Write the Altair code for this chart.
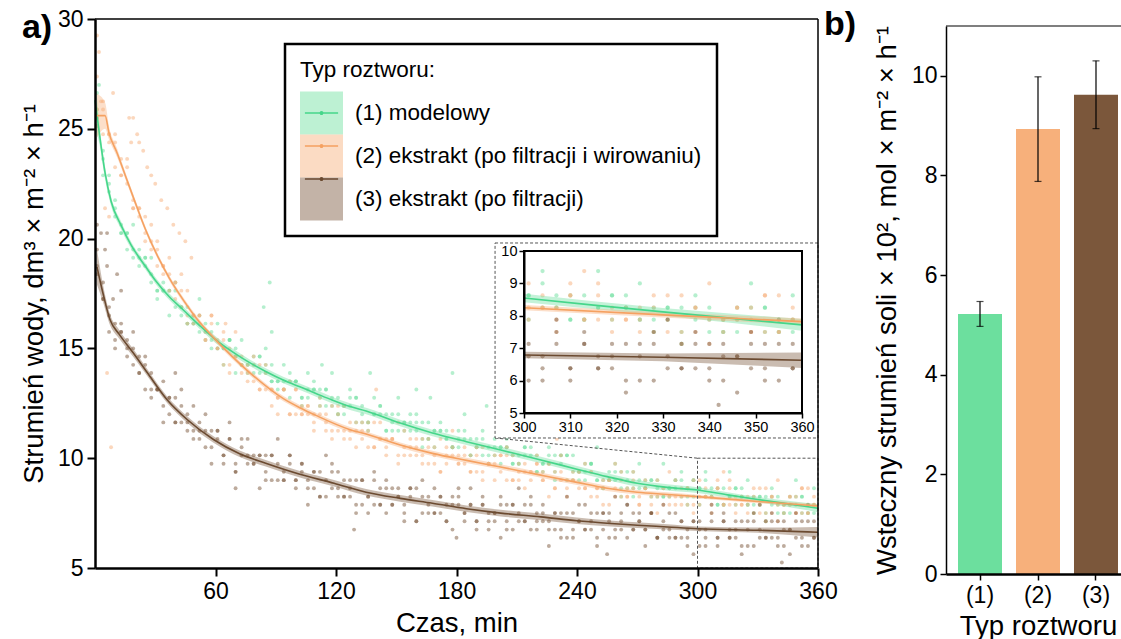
import altair as alt
import pandas as pd

FONT = "Liberation Sans"

# ---------------- data ----------------
SERIES = ["(1) modelowy", "(2) ekstrakt (po filtracji i wirowaniu)", "(3) ekstrakt (po filtracji)"]
FILL_COLORS = ["#6cdf9e", "#f7b07b", "#7b573b"]
LINE_COLORS = ["#45d68a", "#f5a161", "#6b4a30"]

# sampling times of the measured water flux, min
SCATTER_T = list(range(1, 360, 3))

G_A = [25.5, 24.0, 22.13, 21.0, 20.63, 20.25, 19.13, 19.13, 19.13, 18.38,
       17.63, 17.63, 17.63, 16.88, 16.88, 16.88, 16.13, 15.75, 15.75, 15.75,
       15.0, 15.0, 15.38, 14.63, 14.25, 14.25, 14.63, 13.88, 13.88, 14.25,
       13.5, 13.13, 13.5, 13.5, 12.75, 13.13, 13.5, 12.75, 12.38, 12.75,
       12.75, 12.0, 12.38, 12.75, 12.0, 11.63, 12.0, 12.38, 11.25, 11.63,
       12.0, 11.63, 11.25, 11.25, 11.63, 10.88, 11.25, 11.25, 10.88, 10.5,
       10.88, 11.25, 10.13, 10.5, 10.88, 10.5, 10.13, 10.5, 10.5, 9.75,
       10.13, 10.5, 10.13, 9.38, 9.75, 10.13, 9.38, 9.75, 10.13, 9.38,
       9.0, 9.38, 9.75, 9.0, 9.0, 9.38, 9.0, 8.63, 9.0, 9.38,
       8.63, 8.63, 9.0, 8.63, 8.25, 8.63, 9.0, 8.25, 8.63, 9.0,
       8.63, 8.25, 8.25, 8.63, 7.88, 8.25, 8.63, 8.25, 7.88, 8.25,
       8.25, 7.5, 7.88, 8.25, 7.88, 7.5, 7.88, 8.25, 7.5, 7.88]
G_B = [25.13, 23.63, 22.5, 21.75, 20.25, 19.5, 19.5, 19.5, 19.13, 18.0,
       17.63, 17.63, 17.63, 17.63, 16.5, 16.13, 16.13, 16.5, 16.13, 15.0,
       15.0, 15.0, 15.38, 15.0, 14.25, 13.88, 14.25, 14.63, 14.25, 13.5,
       13.13, 13.5, 13.88, 13.5, 12.75, 12.75, 13.13, 13.13, 13.13, 12.38,
       12.0, 12.38, 12.75, 12.75, 11.63, 11.63, 12.0, 12.38, 12.0, 11.25,
       11.25, 11.63, 12.0, 11.63, 10.88, 10.88, 11.25, 11.25, 11.25, 10.5,
       10.5, 10.88, 10.88, 10.88, 10.13, 10.13, 10.5, 10.5, 10.5, 9.75,
       9.75, 10.13, 10.5, 10.13, 9.38, 9.75, 10.13, 10.13, 10.13, 9.0,
       9.38, 9.75, 9.75, 9.0, 8.63, 9.0, 9.38, 9.38, 8.63, 8.63,
       9.0, 9.0, 9.0, 8.25, 8.25, 8.63, 9.0, 9.0, 8.25, 8.25,
       8.63, 9.0, 8.63, 7.88, 7.88, 8.25, 8.63, 8.63, 7.88, 7.88,
       7.88, 8.25, 8.25, 7.5, 7.5, 7.88, 8.25, 8.25, 7.5, 7.5]
G_C = [25.88, 22.88, 22.88, 21.38, 20.25, 20.25, 20.63, 18.75, 18.75, 19.13,
       17.25, 18.0, 16.5, 18.0, 16.88, 16.13, 16.5, 17.25, 15.38, 15.38,
       16.13, 14.25, 15.38, 13.88, 15.38, 14.25, 13.88, 14.63, 15.0, 13.5,
       13.5, 14.25, 12.75, 13.5, 12.38, 13.88, 13.13, 12.38, 13.13, 13.88,
       12.0, 12.38, 13.13, 11.63, 12.38, 11.25, 12.75, 12.0, 11.25, 12.0,
       12.75, 11.25, 11.63, 12.0, 10.5, 11.63, 10.5, 11.63, 10.88, 10.5,
       11.25, 12.0, 10.13, 10.5, 11.25, 9.75, 10.88, 9.75, 10.88, 10.13,
       9.75, 10.5, 11.25, 9.38, 9.75, 10.5, 9.0, 10.13, 9.0, 10.13,
       9.38, 9.0, 9.75, 10.5, 8.63, 9.0, 9.75, 8.25, 9.38, 8.25,
       9.75, 8.63, 8.25, 9.0, 9.75, 8.25, 8.63, 9.38, 7.88, 9.0,
       7.88, 9.38, 8.25, 7.88, 8.63, 9.38, 7.88, 8.25, 9.0, 7.5,
       8.25, 7.13, 8.63, 7.88, 7.5, 8.25, 9.0, 7.5, 7.88, 8.63]

O_A = [25.5, 25.88, 24.38, 24.75, 22.88, 22.5, 21.75, 21.38, 20.25, 20.63,
       18.75, 18.75, 18.38, 18.0, 16.88, 17.63, 16.13, 16.13, 15.75, 16.13,
       15.0, 15.75, 14.25, 14.63, 14.25, 14.25, 13.5, 14.25, 13.13, 13.13,
       12.75, 13.13, 12.0, 13.13, 12.0, 12.0, 12.0, 12.38, 11.25, 12.38,
       11.25, 11.25, 11.25, 11.63, 10.88, 11.63, 10.5, 10.88, 10.88, 10.88,
       10.13, 11.25, 10.13, 10.5, 10.13, 10.5, 9.75, 10.88, 9.75, 10.13,
       10.13, 10.13, 9.38, 10.5, 9.38, 9.75, 9.75, 10.13, 9.0, 10.13,
       9.0, 9.38, 9.38, 9.75, 9.0, 9.75, 8.63, 9.0, 9.0, 9.38,
       8.63, 9.75, 8.25, 8.63, 8.63, 9.0, 8.25, 9.38, 8.25, 8.63,
       8.25, 8.63, 7.88, 9.0, 7.88, 8.25, 8.25, 8.63, 7.88, 9.0,
       7.88, 8.25, 8.25, 8.63, 7.88, 9.0, 7.88, 7.88, 7.88, 8.25,
       7.5, 8.63, 7.5, 7.88, 7.88, 8.25, 7.5, 8.63, 7.5, 7.88]
O_B = [25.88, 24.75, 24.75, 24.38, 22.88, 23.25, 21.38, 21.38, 19.88, 19.88,
       19.5, 18.38, 19.13, 17.25, 17.63, 16.13, 16.5, 16.5, 15.38, 16.5,
       15.0, 15.38, 13.88, 14.63, 14.63, 13.5, 14.63, 13.13, 13.88, 12.38,
       12.75, 13.13, 12.0, 13.13, 12.0, 12.38, 11.25, 12.0, 12.0, 11.25,
       12.38, 10.88, 11.63, 10.5, 11.25, 11.25, 10.5, 11.63, 10.5, 10.88,
       9.75, 10.5, 10.88, 10.13, 10.88, 9.75, 10.5, 9.38, 10.13, 10.5,
       9.75, 10.5, 9.38, 10.13, 9.0, 9.75, 10.13, 9.38, 10.13, 9.0,
       9.75, 8.63, 9.38, 9.75, 9.0, 9.75, 8.63, 9.38, 8.25, 9.0,
       9.38, 8.63, 9.38, 8.25, 9.0, 7.88, 8.63, 9.0, 8.25, 9.38,
       7.88, 8.63, 7.5, 8.25, 8.63, 7.88, 9.0, 7.88, 8.63, 7.5,
       8.25, 8.63, 7.88, 9.0, 7.88, 8.63, 7.5, 7.88, 8.25, 7.5,
       8.63, 7.5, 8.25, 7.13, 7.88, 8.25, 7.5, 8.63, 7.5, 8.25]
O_C = [25.13, 26.25, 24.75, 23.25, 23.63, 23.63, 21.38, 21.0, 21.0, 19.5,
       19.88, 18.75, 17.63, 18.0, 18.38, 16.5, 16.5, 16.5, 15.38, 16.5,
       15.38, 14.25, 15.0, 15.75, 13.88, 13.88, 14.25, 13.13, 14.25, 13.13,
       12.0, 13.13, 13.5, 12.0, 12.38, 12.38, 11.63, 12.75, 11.63, 10.88,
       12.0, 12.38, 10.88, 11.25, 11.63, 10.5, 11.63, 10.88, 10.13, 10.88,
       11.63, 10.13, 10.5, 10.88, 9.75, 10.88, 10.13, 9.38, 10.5, 11.25,
       9.75, 9.75, 10.13, 9.38, 10.5, 9.75, 9.0, 10.13, 10.5, 9.0,
       9.38, 9.75, 9.0, 10.13, 9.38, 8.25, 9.38, 10.13, 8.63, 9.0,
       9.38, 8.63, 9.38, 8.63, 7.88, 9.0, 9.75, 8.25, 8.63, 9.0,
       7.88, 9.0, 8.25, 7.5, 8.63, 9.38, 7.88, 8.25, 8.63, 7.88,
       9.0, 8.25, 7.5, 8.63, 9.38, 7.88, 8.25, 8.25, 7.5, 8.63,
       7.88, 7.13, 8.25, 9.0, 7.5, 7.88, 8.25, 7.5, 8.63, 7.88]

B_A = [18.75, 17.25, 16.88, 15.38, 15.75, 15.38, 14.25, 14.63, 13.13, 13.88,
       13.13, 12.38, 12.75, 11.63, 12.38, 11.63, 11.25, 11.63, 10.5, 11.25,
       10.88, 10.13, 10.88, 9.38, 10.5, 10.13, 9.75, 10.13, 9.0, 10.13,
       9.75, 9.0, 9.75, 8.63, 9.75, 9.0, 8.63, 9.38, 8.25, 9.38,
       8.63, 8.25, 9.0, 7.88, 9.0, 8.25, 7.88, 8.63, 7.5, 8.63,
       8.25, 7.88, 8.63, 7.13, 8.25, 7.88, 7.5, 8.25, 7.13, 8.25,
       7.88, 7.5, 7.88, 6.75, 7.88, 7.5, 7.13, 7.88, 6.75, 7.88,
       7.5, 7.13, 7.88, 6.75, 7.5, 7.13, 6.75, 7.5, 6.38, 7.5,
       7.13, 6.75, 7.5, 6.38, 7.5, 7.13, 6.75, 7.5, 6.38, 7.5,
       7.13, 6.75, 7.5, 6.38, 7.13, 6.75, 6.38, 7.13, 6.0, 7.13,
       6.75, 6.38, 7.13, 6.0, 7.13, 6.75, 6.38, 7.13, 6.0, 7.13,
       6.75, 6.38, 7.13, 6.0, 7.13, 6.75, 6.38, 7.13, 6.0, 7.13]
B_B = [19.5, 17.25, 16.5, 15.0, 15.75, 14.63, 15.75, 13.88, 14.63, 13.13,
       13.13, 11.63, 12.75, 11.63, 13.13, 11.25, 12.38, 10.88, 11.25, 9.75,
       11.25, 9.75, 11.63, 9.75, 10.88, 9.75, 10.13, 8.63, 10.13, 9.0,
       10.88, 9.0, 10.13, 9.0, 9.38, 7.88, 9.38, 8.25, 10.13, 8.63,
       9.38, 8.25, 8.63, 7.5, 9.0, 7.5, 9.38, 7.88, 9.0, 7.88,
       8.25, 7.13, 8.63, 7.13, 9.0, 7.5, 8.63, 7.5, 7.88, 6.75,
       8.25, 7.13, 8.63, 7.13, 8.25, 7.13, 7.5, 6.38, 7.88, 6.75,
       8.63, 7.13, 8.25, 7.13, 7.13, 6.0, 7.5, 6.38, 8.25, 6.75,
       7.88, 6.75, 7.13, 6.0, 7.5, 6.38, 8.25, 6.75, 7.88, 6.75,
       7.13, 6.0, 7.5, 6.38, 7.88, 6.38, 7.5, 6.38, 6.75, 5.63,
       7.13, 6.0, 7.88, 6.38, 7.5, 6.38, 6.75, 5.63, 7.13, 6.0,
       7.88, 6.38, 7.5, 6.38, 6.75, 5.63, 7.13, 6.0, 7.88, 6.38]
B_C = [18.38, 18.0, 15.75, 16.13, 16.13, 15.0, 15.0, 13.88, 14.25, 12.75,
       13.13, 13.5, 12.0, 12.75, 11.63, 12.0, 10.88, 11.25, 12.0, 10.5,
       11.25, 10.13, 10.88, 9.38, 10.13, 10.88, 9.75, 10.13, 9.38, 10.13,
       9.0, 9.38, 10.13, 9.0, 9.75, 8.63, 9.38, 8.25, 9.0, 9.75,
       8.25, 9.0, 8.25, 9.0, 7.88, 8.25, 9.0, 7.88, 8.63, 7.88,
       8.63, 7.5, 8.25, 8.63, 7.5, 8.25, 7.5, 8.25, 7.13, 7.88,
       8.63, 7.5, 7.88, 7.13, 7.88, 6.75, 7.5, 8.25, 7.13, 7.88,
       7.13, 7.88, 6.75, 7.5, 7.88, 6.75, 7.5, 6.75, 7.5, 6.38,
       7.13, 7.88, 6.75, 7.5, 6.75, 7.5, 6.38, 7.13, 7.88, 6.75,
       7.5, 6.75, 7.5, 6.38, 6.75, 7.5, 6.38, 7.13, 6.38, 7.13,
       6.0, 6.75, 7.5, 6.38, 7.13, 6.38, 7.13, 6.0, 6.75, 7.5,
       6.38, 7.13, 6.38, 7.13, 6.0, 6.75, 7.5, 6.38, 7.13, 6.38]

# isolated points (time, value, series index)
EXTRA_T = [1, 2, 1, 3, 9, 17, 19, 21, 18, 22, 24, 26, 28, 30, 33, 36, 39, 42, 45, 48, 6, 8, 5, 7, 65, 140, 230,
           87, 84, 88, 113, 137, 178, 167, 195, 160, 2, 1,
           1, 3, 6, 5, 6, 11, 13, 9, 129, 342, 180, 255, 40, 70]
EXTRA_V = [29.25, 28.5, 27.38, 26.25, 26.63, 25.5, 25.5, 24.75, 24.38, 24.38, 24.0, 23.25, 22.88, 22.5, 21.75, 21.38,
           20.63, 20.25, 19.88, 19.13, 13.88, 10.5, 21.38, 21.0, 16.13, 13.13, 10.88,
           18.0, 16.88, 15.75, 14.25, 13.88, 13.88, 12.75, 12.38, 13.13, 27.0, 26.63,
           20.63, 20.25, 20.25, 19.5, 18.75, 18.38, 17.63, 17.25, 6.75, 5.25, 6.38, 5.63, 13.88, 8.63]
EXTRA_S = [1] * 27 + [0] * 11 + [2] * 14

# fitted curves with confidence half-widths
G_FIT_T = [0, 2, 5, 8, 13, 18, 25, 30, 37, 44, 52, 60, 70, 77, 85, 94, 102, 110, 118, 127,
           135, 152, 168, 185, 202, 222, 240, 255, 270, 285, 300, 315, 330, 345, 360]
G_FIT = [26.3, 24.9, 23.0, 21.7, 20.6, 19.7, 18.75, 18.1, 17.35, 16.75, 16.05, 15.4, 14.75, 14.35, 13.95,
         13.55, 13.25, 12.95, 12.65, 12.35, 12.15, 11.6, 11.15, 10.75, 10.37, 9.92, 9.5, 9.16, 8.86, 8.67,
         8.55, 8.33, 8.12, 7.92, 7.72]
G_HW = [1.3, 0.5, 0.3, 0.22, 0.18, 0.16, 0.15, 0.15, 0.15, 0.15, 0.15, 0.15, 0.15, 0.15, 0.15, 0.15, 0.15,
        0.15, 0.15, 0.15, 0.15, 0.15, 0.15, 0.15, 0.15, 0.15, 0.15, 0.15, 0.15, 0.14, 0.13, 0.12, 0.12,
        0.14, 0.18]
O_FIT_T = [1, 5, 7, 11, 15, 20, 25, 32, 37, 44, 52, 60, 77, 94, 102, 110, 127, 135, 152, 168,
           185, 202, 222, 240, 255, 270, 285, 300, 330, 360]
O_FIT = [25.6, 25.6, 24.8, 23.9, 22.9, 21.65, 20.45, 19.05, 18.2, 17.2, 16.2, 15.4, 13.9, 12.7, 12.3,
         11.95, 11.3, 11.1, 10.6, 10.22, 9.9, 9.6, 9.23, 8.9, 8.63, 8.45, 8.35, 8.25, 8.03, 7.82]
O_HW = [1.0, 0.6, 0.3, 0.2, 0.16, 0.14, 0.13, 0.12, 0.12, 0.12, 0.12, 0.12, 0.12, 0.12, 0.12, 0.12,
        0.12, 0.12, 0.12, 0.12, 0.12, 0.12, 0.12, 0.12, 0.12, 0.1, 0.1, 0.08, 0.08, 0.1]
B_FIT_T = [1, 4, 7.5, 12, 19, 26, 36, 46, 59, 72, 85, 102, 119, 135, 152, 168, 185, 202, 222, 240,
           255, 270, 285, 300, 330, 360]
B_FIT = [18.7, 17.5, 16.3, 15.65, 14.8, 13.9, 12.65, 11.75, 10.85, 10.2, 9.77, 9.27, 8.86, 8.45, 8.17,
         7.95, 7.7, 7.5, 7.33, 7.15, 7.04, 6.95, 6.87, 6.79, 6.72, 6.63]
B_HW = [0.8, 0.4, 0.25, 0.2, 0.18, 0.16, 0.15, 0.15, 0.15, 0.15, 0.15, 0.15, 0.15, 0.15, 0.15, 0.15,
        0.15, 0.15, 0.15, 0.15, 0.14, 0.13, 0.12, 0.1, 0.12, 0.24]

# panel b: reverse salt flux x 10^2
CATS = ["(1)", "(2)", "(3)"]
RSF = [5.22, 8.93, 9.62]
RSF_ERR = [0.25, 1.05, 0.68]

# ---------------- tables ----------------
rows = []
for name, reps in zip(SERIES, [(G_A, G_B, G_C), (O_A, O_B, O_C), (B_A, B_B, B_C)]):
    for rep in reps:
        assert len(rep) == len(SCATTER_T), (name, len(rep))
        for t, v in zip(SCATTER_T, rep):
            rows.append({"t": t, "v": v, "series": name})
assert len(EXTRA_T) == len(EXTRA_V) == len(EXTRA_S)
for t, v, s in zip(EXTRA_T, EXTRA_V, EXTRA_S):
    rows.append({"t": t, "v": v, "series": SERIES[s]})
scatter = pd.DataFrame(rows)

frows = []
for name, T, F, H in zip(SERIES, [G_FIT_T, O_FIT_T, B_FIT_T], [G_FIT, O_FIT, B_FIT], [G_HW, O_HW, B_HW]):
    assert len(T) == len(F) == len(H), name
    for t, f, h in zip(T, F, H):
        frows.append({"t": t, "fit": f, "lo": f - h, "hi": f + h, "series": name, "solution": name})
fits = pd.DataFrame(frows)

bars = pd.DataFrame({"cat": CATS, "val": RSF, "err": RSF_ERR})
bars["lo"] = bars["val"] - bars["err"]
bars["hi"] = bars["val"] + bars["err"]

one = pd.DataFrame({"k": [0]})

# ---------------- styling ----------------
AX = dict(domainColor="black", tickColor="black", labelColor="black", titleColor="black",
          labelFont=FONT, titleFont=FONT, titleFontWeight="normal", grid=False, zindex=1,
          labelFlush=False)
LAB = 23      # tick label size
TIT = 27.5    # axis title size
LEG = 22.5    # legend text size

fill_scale = alt.Scale(domain=SERIES, range=FILL_COLORS)
stroke_scale = alt.Scale(range=LINE_COLORS)

fill_legend = alt.Legend(orient="none", legendX=190, legendY=25, title="Typ roztworu:",
                         titleFontSize=LEG, titleFontWeight="normal", titleColor="black", titleFont=FONT,
                         titlePadding=10, labelFontSize=LEG, labelColor="black", labelFont=FONT,
                         labelOffset=12, labelLimit=600, symbolType="square", symbolSize=1849,
                         symbolStrokeWidth=0, symbolOpacity=0.45, rowPadding=0, padding=15,
                         strokeColor="black")
stroke_legend = alt.Legend(orient="none", legendX=190, legendY=25, title=" ",
                           titleFontSize=LEG, titleFontWeight="normal", titleFont=FONT,
                           titlePadding=10, labelFontSize=LEG, labelFont=FONT, labelExpr="''",
                           labelOffset=12, labelLimit=600,
                           symbolType="M-0.8,0H0.8M0.06,0A0.06,0.06,0,1,1,-0.06,0A0.06,0.06,0,1,1,0.06,0",
                           symbolSize=1722, symbolStrokeWidth=1.5, symbolOpacity=1, rowPadding=0,
                           padding=15)

FILL = alt.Fill("series:N", scale=fill_scale, legend=fill_legend)
STROKE = alt.Stroke("solution:N", sort=SERIES, scale=stroke_scale, legend=stroke_legend)

# ---------------- panel a ----------------
xa_scale = alt.Scale(domain=[0, 360], range=[0, 723], nice=False)
ya_scale = alt.Scale(domain=[5, 30], range=[549, 0], nice=False, zero=False)
xa_axis = alt.Axis(orient="bottom", values=[60, 120, 180, 240, 300, 360], title="Czas, min",
                   domainWidth=2.5, tickWidth=2, tickSize=8, labelFontSize=LAB, labelPadding=4,
                   titleFontSize=TIT, titlePadding=6, **AX)
ya_axis = alt.Axis(orient="left", values=[5, 10, 15, 20, 25, 30],
                   title="Strumień wody, dm³ × m⁻² × h⁻¹",
                   domainWidth=2.5, tickWidth=2, tickSize=8, labelFontSize=LAB, labelPadding=4,
                   titleFontSize=TIT, titlePadding=9, **AX)
XA = alt.X("t:Q", scale=xa_scale, axis=xa_axis)

a_points = alt.Chart(scatter).mark_circle(size=15, opacity=0.5).encode(
    x=XA, y=alt.Y("v:Q", scale=ya_scale, axis=ya_axis), fill=FILL)
a_band = alt.Chart(fits).mark_area(opacity=0.4, interpolate="monotone").encode(
    x=XA, y=alt.Y("lo:Q", scale=ya_scale, axis=ya_axis), y2="hi:Q", fill=FILL)
a_line = alt.Chart(fits).mark_line(strokeWidth=1.6, interpolate="monotone").encode(
    x=XA, y=alt.Y("fit:Q", scale=ya_scale, axis=ya_axis), stroke=STROKE)
a_zoom = alt.Chart(one).mark_rect(fillOpacity=0, stroke="#555555", strokeWidth=1, strokeDash=[3, 2]).encode(
    x=alt.datum(300), x2=alt.datum(360), y=alt.datum(5), y2=alt.datum(10))
a_link = alt.Chart(one).mark_rule(color="#555555", strokeWidth=1, strokeDash=[3, 2]).encode(
    x=alt.datum(199.2), y=alt.datum(10.92), x2=alt.datum(300), y2=alt.datum(10))
a_box = alt.Chart(one).mark_rect(fill="white", stroke="#555555", strokeWidth=1, strokeDash=[3, 2]).encode(
    x=alt.datum(199.2), x2=alt.datum(360), y=alt.datum(10.92), y2=alt.datum(19.8))
a_top = alt.Chart(one).mark_rule(color="black", strokeWidth=1.5).encode(
    x=alt.datum(0), x2=alt.datum(360), y=alt.datum(30))
a_right = alt.Chart(one).mark_rule(color="black", strokeWidth=1.5).encode(
    x=alt.datum(360), y=alt.datum(5), y2=alt.datum(30))

panel_a = alt.layer(a_points, a_band, a_line, a_zoom, a_link, a_box, a_top, a_right)

# ---------------- inset ----------------
xi_scale = alt.Scale(domain=[300, 360], range=[429, 707], nice=False)
yi_scale = alt.Scale(domain=[5, 10], range=[394, 232], nice=False, zero=False)
xi_axis = alt.Axis(orient="bottom", offset=-155, values=[300, 310, 320, 330, 340, 350, 360], title="",
                   format="d", domainWidth=2, tickWidth=1.5, tickSize=5, labelFontSize=14.5,
                   labelPadding=2, **AX)
yi_axis = alt.Axis(orient="left", offset=-429, values=[5, 6, 7, 8, 9, 10], title="", format="d",
                   domainWidth=2, tickWidth=1.5, tickSize=5, labelFontSize=14.5, labelPadding=2, **AX)
XI = alt.X("t:Q", scale=xi_scale, axis=xi_axis)

i_points = alt.Chart(scatter).mark_circle(size=18, opacity=0.5).encode(
    x=XI, y=alt.Y("v:Q", scale=yi_scale, axis=yi_axis), fill=FILL
).transform_filter("datum.t >= 300 && datum.v >= 5 && datum.v <= 10")
i_band = alt.Chart(fits).mark_area(opacity=0.4).encode(
    x=XI, y=alt.Y("lo:Q", scale=yi_scale, axis=yi_axis), y2="hi:Q", fill=FILL
).transform_filter("datum.t >= 300")
i_line = alt.Chart(fits).mark_line(strokeWidth=1.6).encode(
    x=XI, y=alt.Y("fit:Q", scale=yi_scale, axis=yi_axis), stroke=STROKE
).transform_filter("datum.t >= 300")
i_frame = alt.Chart(one).mark_rect(fillOpacity=0, stroke="black", strokeWidth=2).encode(
    x=alt.datum(300), x2=alt.datum(360), y=alt.datum(5), y2=alt.datum(10))

inset = alt.layer(i_points, i_band, i_line, i_frame)

# ---------------- panel b ----------------
xb_scale = alt.Scale(domain=CATS, range=[851, 1035], paddingInner=0.2414, paddingOuter=0.207)
yb_scale = alt.Scale(domain=[0, 11], range=[555, 7], nice=False)
xb_axis = alt.Axis(orient="bottom", offset=6, title="Typ roztworu", labelAngle=0,
                   domainWidth=2.5, tickWidth=1.5, tickSize=6, labelFontSize=LAB, labelPadding=4,
                   titleFontSize=TIT, titlePadding=5, **AX)
yb_axis = alt.Axis(orient="left", offset=-851, values=[0, 2, 4, 6, 8, 10],
                   title="Wsteczny strumień soli × 10², mol × m⁻² × h⁻¹",
                   domainWidth=1.5, tickWidth=1.5, tickSize=6, labelFontSize=LAB, labelPadding=3,
                   titleFontSize=TIT, titlePadding=10, **AX)
XB = alt.X("cat:N", scale=xb_scale, axis=xb_axis)

b_bars = alt.Chart(bars).mark_bar().encode(
    x=XB, y=alt.Y("val:Q", scale=yb_scale, axis=yb_axis),
    color=alt.Color("cat:N", scale=alt.Scale(domain=CATS, range=FILL_COLORS), legend=None))
b_err = alt.Chart(bars).mark_rule(color="black", strokeWidth=1.2).encode(
    x=XB, y=alt.Y("lo:Q", scale=yb_scale, axis=yb_axis), y2="hi:Q")
b_cap_lo = alt.Chart(bars).mark_tick(color="black", thickness=1.2, size=7).encode(
    x=XB, y=alt.Y("lo:Q", scale=yb_scale, axis=yb_axis))
b_cap_hi = alt.Chart(bars).mark_tick(color="black", thickness=1.2, size=7).encode(
    x=XB, y=alt.Y("hi:Q", scale=yb_scale, axis=yb_axis))
b_top = alt.Chart(one).mark_rule(color="black", strokeWidth=1.2).encode(
    y=alt.datum(11), x=alt.value(851), x2=alt.value(1026))

panel_b = alt.layer(b_bars, b_err, b_cap_lo, b_cap_hi, b_top)

# ---------------- panel tags ----------------
tags = alt.Chart(pd.DataFrame({"tag": ["a)", "b)"], "px": [-58, 745], "py": [19, 16]})).mark_text(
    font=FONT, fontSize=34, fontWeight="bold", align="center", baseline="alphabetic", color="black"
).encode(text="tag:N", x=alt.X("px:Q", scale=None), y=alt.Y("py:Q", scale=None))

chart = alt.layer(panel_a, inset, panel_b, tags).resolve_scale(
    x="independent", y="independent"
).properties(
    width=1026, height=549,
    autosize=alt.AutoSizeParams(type="none"),
    padding={"left": 95, "top": 19, "right": 0, "bottom": 71},
).configure(font=FONT).configure_view(strokeWidth=0).configure_legend(strokeWidth=2.5)

chart.save("out.html", embed_options={"renderer": "svg", "actions": False})
